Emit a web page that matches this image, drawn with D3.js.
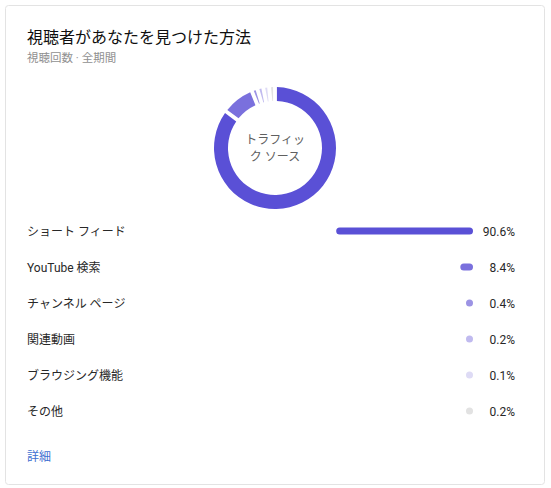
<!DOCTYPE html>
<html>
<head>
<meta charset="utf-8">
<script src="https://cdn.jsdelivr.net/npm/d3@7"></script>
<style>
  html, body { margin: 0; padding: 0; background: #ffffff; }
  svg { display: block; font-family: Roboto, "Noto Sans CJK JP", "Noto Sans", sans-serif; }
</style>
</head>
<body>
<svg id="chart" width="551" height="488"></svg>
<script>
const titleText = "視聴者があなたを見つけた方法";
const subtitleText = "視聴回数 · 全期間";
const centerLines = ["トラフィッ", "ク ソース"];
const linkText = "詳細";

const categories = ["ショート フィード", "YouTube 検索", "チャンネル ページ", "関連動画", "ブラウジング機能", "その他"];
const values = [90.6, 8.4, 0.4, 0.2, 0.1, 0.2];
const valueLabels = ["90.6%", "8.4%", "0.4%", "0.2%", "0.1%", "0.2%"];
const colors = ["#5a50d6", "#7a70dd", "#9c93e4", "#c0baef", "#dedbf5", "#e2e2e2"];

const svg = d3.select("#chart");

// card
svg.append("rect")
  .attr("x", 5.5).attr("y", 5.5).attr("width", 539).attr("height", 479)
  .attr("rx", 3).attr("fill", "#ffffff").attr("stroke", "#e3e3e3");

// title
svg.append("text").attr("x", 27).attr("y", 43)
  .attr("font-size", 16).attr("fill", "#0f0f0f").text(titleText);
svg.append("text").attr("x", 27).attr("y", 62)
  .attr("font-size", 11.5).attr("fill", "#909090").text(subtitleText);

// donut
const cx = 275, cy = 148;
const minShare = 0.8;
const pie = d3.pie().sort(null).value(d => Math.max(d, minShare)).padAngle(0.05);
const arc = d3.arc().innerRadius(47).outerRadius(61);
const g = svg.append("g").attr("transform", `translate(${cx},${cy})`);
g.selectAll("path").data(pie(values)).join("path")
  .attr("d", arc).attr("fill", (d, i) => colors[i]);

g.selectAll("text.center").data(centerLines).join("text")
  .attr("class", "center")
  .attr("x", 0).attr("y", (d, i) => -4 + i * 17)
  .attr("text-anchor", "middle").attr("font-size", 12).attr("fill", "#606060")
  .text(d => d);

// rows
const y = d3.scalePoint().domain(categories).range([232, 412]);
const x = d3.scaleLinear().domain([0, 100]).range([0, 151]);
const barRight = 473, barH = 7;

const rows = svg.append("g");
rows.selectAll("text.label").data(categories).join("text")
  .attr("class", "label")
  .attr("x", 27).attr("y", d => y(d)).attr("dy", "0.35em")
  .attr("font-size", 12).attr("fill", "#282828").text(d => d);

rows.selectAll("rect.bar").data(values).join("rect")
  .attr("class", "bar")
  .attr("x", d => barRight - Math.max(x(d), barH))
  .attr("y", (d, i) => y(categories[i]) - 1 - barH / 2)
  .attr("width", d => Math.max(x(d), barH))
  .attr("height", barH).attr("rx", barH / 2)
  .attr("fill", (d, i) => colors[i]);

rows.selectAll("text.val").data(valueLabels).join("text")
  .attr("class", "val")
  .attr("x", 515).attr("y", (d, i) => y(categories[i])).attr("dy", "0.35em")
  .attr("text-anchor", "end").attr("font-size", 12).attr("fill", "#282828")
  .text(d => d);

svg.append("text").attr("x", 27).attr("y", 457).attr("dy", "0.35em")
  .attr("font-size", 12).attr("fill", "#3e6fd1").text(linkText);
</script>
</body>
</html>
